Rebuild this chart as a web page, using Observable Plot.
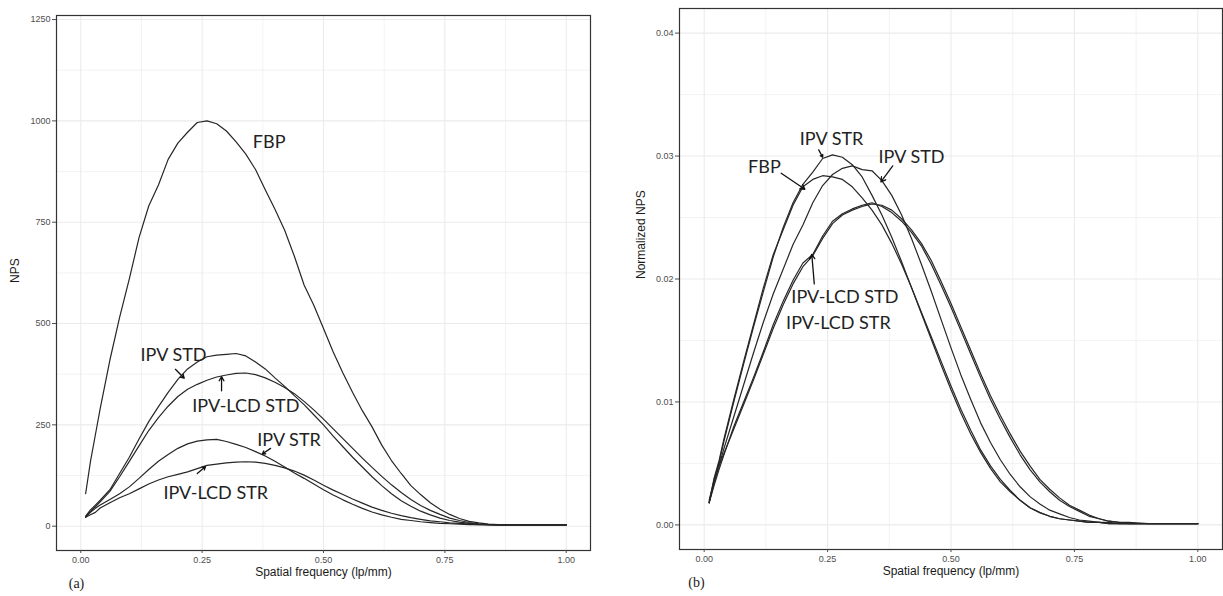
<!DOCTYPE html>
<html><head><meta charset="utf-8">
<script src="https://cdn.jsdelivr.net/npm/d3@7"></script>
<script src="https://cdn.jsdelivr.net/npm/@observablehq/plot@0.6"></script>
<style>
body{margin:0;background:#fff;}
#wrap{position:relative;width:1223px;height:596px;overflow:hidden;background:#fff;}
#pa{position:absolute;left:0;top:0;}
#pb{position:absolute;left:600px;top:0;}
</style></head><body><div id="wrap"><div id="pa"></div><div id="pb"></div></div>
<script>
// ---- data ----
const freq = [0.01,0.02,0.03,0.04,0.06,0.08,0.10,0.12,0.14,0.16,0.18,0.20,0.22,0.24,0.26,0.28,0.30,0.32,0.34,0.36,0.38,0.40,0.42,0.44,0.46,0.48,0.50,0.52,0.54,0.56,0.58,0.60,0.62,0.64,0.66,0.68,0.70,0.72,0.74,0.76,0.78,0.80,0.82,0.84,0.86,0.90,0.95,1.00];
const seriesNames = ["FBP","IPV STD","IPV-LCD STD","IPV STR","IPV-LCD STR"];

// panel (a): NPS
const npsFBP    = [80,160,225,290,410,515,610,712,790,842,905,945,972,996,1000,993,975,948,918,880,830,782,730,666,595,545,488,430,378,330,285,245,200,162,130,100,78,58,42,29,19,12,8,5,4,3,3,3];
const npsIpvStd = [25,40,52,64,90,130,170,215,258,295,330,362,388,405,418,422,424,426,420,405,388,366,345,322,300,275,250,222,196,170,146,122,100,80,63,49,37,28,20,14,10,7,5,4,3,3,3,3];
const npsLcdStd = [22,36,48,60,86,122,160,198,236,268,296,320,338,350,360,368,373,377,378,374,366,355,342,327,308,287,264,240,216,192,168,145,123,102,83,66,51,39,29,20,14,9,6,4,3,3,3,3];
const npsIpvStr = [23,34,44,52,66,80,97,118,140,160,177,192,203,210,213,214,209,202,194,184,173,160,146,131,118,104,90,77,65,54,44,35,28,22,17,14,11,9,7,6,5,4,4,3,3,3,3,3];
const npsLcdStr = [22,28,34,45,58,70,80,92,104,114,122,128,134,142,150,153,156,158,159,158,155,150,144,136,126,114,101,89,78,67,57,47,39,32,26,21,17,13,11,8,7,5,4,4,3,3,3,3];

// panel (b): normalized NPS
const nnpsFBP    = [0.0018,0.0038,0.0052,0.0070,0.0102,0.0133,0.0163,0.0193,0.0220,0.0240,0.0260,0.0275,0.0281,0.0284,0.0283,0.0281,0.0275,0.0266,0.0256,0.0244,0.0229,0.0212,0.0193,0.0173,0.0153,0.0133,0.0113,0.0094,0.0077,0.0061,0.0048,0.0037,0.0028,0.0020,0.0014,0.0010,0.0007,0.0005,0.0004,0.0003,0.0002,0.0002,0.0001,0.0001,0.0001,0.0001,0.0001,0.0001];
const nnpsIpvStd = [0.0018,0.0034,0.0048,0.0062,0.0088,0.0114,0.0140,0.0165,0.0188,0.0208,0.0228,0.0244,0.0262,0.0276,0.0285,0.0290,0.0292,0.0289,0.0288,0.0280,0.0268,0.0252,0.0233,0.0212,0.0190,0.0167,0.0144,0.0122,0.0102,0.0083,0.0067,0.0053,0.0041,0.0031,0.0023,0.0017,0.0012,0.0009,0.0006,0.0004,0.0003,0.0002,0.0002,0.0001,0.0001,0.0001,0.0001,0.0001];
const nnpsLcdStd = [0.0018,0.0032,0.0045,0.0057,0.0080,0.0100,0.0120,0.0141,0.0163,0.0182,0.0199,0.0213,0.0220,0.0235,0.0247,0.0253,0.0257,0.0260,0.0262,0.0259,0.0254,0.0247,0.0238,0.0227,0.0212,0.0195,0.0177,0.0158,0.0139,0.0120,0.0102,0.0086,0.0071,0.0057,0.0045,0.0035,0.0027,0.0020,0.0015,0.0011,0.0007,0.0005,0.0003,0.0002,0.0001,0.0001,0.0001,0.0001];
const nnpsIpvStr = [0.0018,0.0036,0.0050,0.0068,0.0100,0.0131,0.0161,0.0190,0.0218,0.0242,0.0262,0.0277,0.0287,0.0298,0.0301,0.0299,0.0293,0.0283,0.0268,0.0252,0.0234,0.0214,0.0193,0.0172,0.0151,0.0130,0.0110,0.0091,0.0074,0.0059,0.0046,0.0035,0.0027,0.0020,0.0014,0.0010,0.0007,0.0005,0.0004,0.0003,0.0002,0.0002,0.0001,0.0001,0.0001,0.0001,0.0001,0.0001];
const nnpsLcdStr = [0.0020,0.0036,0.0048,0.0058,0.0078,0.0098,0.0118,0.0139,0.0160,0.0179,0.0196,0.0210,0.0219,0.0233,0.0245,0.0252,0.0256,0.0259,0.0261,0.0260,0.0256,0.0249,0.0240,0.0229,0.0215,0.0198,0.0180,0.0161,0.0142,0.0123,0.0105,0.0089,0.0074,0.0060,0.0048,0.0037,0.0029,0.0022,0.0016,0.0012,0.0008,0.0005,0.0003,0.0002,0.0002,0.0001,0.0001,0.0001];

// ticks
const xTicks = [0, 0.25, 0.5, 0.75, 1];
const xMinor = [0.125, 0.375, 0.625, 0.875];
const yTicksA = [0, 250, 500, 750, 1000, 1250];
const yMinorA = [125, 375, 625, 875, 1125];
const yTicksB = [0, 0.01, 0.02, 0.03, 0.04];
const yMinorB = [0.005, 0.015, 0.025, 0.035];

// annotations panel (a)
const labA  = ["FBP","IPV STD","IPV-LCD STD","IPV STR","IPV-LCD STR"];
const labAx = [0.388, 0.191, 0.340, 0.429, 0.278];
const labAy = [947, 422, 296, 211, 82];
const arrA_x1 = [0.195, 0.290, 0.391, 0.240];
const arrA_y1 = [387, 334, 192, 130];
const arrA_x2 = [0.213, 0.290, 0.374, 0.257];
const arrA_y2 = [365, 369, 178, 147];

// annotations panel (b)
const labB  = ["IPV STR","FBP","IPV STD","IPV-LCD STD","IPV-LCD STR"];
const labBx = [0.258, 0.122, 0.420, 0.285, 0.272];
const labBy = [0.0314, 0.0291, 0.0299, 0.0185, 0.0164];
const arrB_x1 = [0.232, 0.156, 0.382, 0.223];
const arrB_y1 = [0.0305, 0.0286, 0.0292, 0.0196];
const arrB_x2 = [0.240, 0.204, 0.358, 0.218];
const arrB_y2 = [0.0299, 0.0273, 0.0279, 0.0220];

// ---- build ----
function tidy(arrs) {
  const out = [];
  arrs.forEach((vals, s) => vals.forEach((v, i) => out.push({series: seriesNames[s], x: freq[i], y: v})));
  return out;
}
const dataA = tidy([npsFBP, npsIpvStd, npsLcdStd, npsIpvStr, npsLcdStr]);
const dataB = tidy([nnpsFBP, nnpsIpvStd, nnpsLcdStd, nnpsIpvStr, nnpsLcdStr]);

const grid = "#ebebeb";
const tickCol = "#4d4d4d";
const lineCol = "#262626";
const style = {fontFamily: "'Liberation Sans', Arial, sans-serif", fontSize: "9px", background: "white", overflow: "visible"};

function panel(opts) {
  const idx = d3.range(opts.lab.length);
  const aidx = d3.range(opts.ax1.length);
  return Plot.plot({
    width: opts.width, height: 596,
    marginLeft: opts.ml, marginRight: opts.mr, marginTop: opts.mt, marginBottom: opts.mb,
    x: {domain: [-0.05, 1.05]},
    y: {domain: opts.ydom},
    style,
    marks: [
      Plot.ruleX(xMinor, {stroke: grid, strokeWidth: 0.6}),
      Plot.ruleX(xTicks, {stroke: grid, strokeWidth: 1.1}),
      Plot.ruleY(opts.yMinor, {stroke: grid, strokeWidth: 0.6}),
      Plot.ruleY(opts.yTicks, {stroke: grid, strokeWidth: 1.1}),
      Plot.line(opts.data, {x: "x", y: "y", z: "series", stroke: lineCol, strokeWidth: 1.2}),
      Plot.frame({stroke: "#333333", strokeWidth: 1.2}),
      Plot.axisX({ticks: xTicks, tickFormat: d3.format(".2f"), tickSize: 3, tickPadding: 3, color: tickCol, label: null, fontSize: 9}),
      Plot.axisY({ticks: opts.yTicks, tickFormat: opts.yfmt, tickSize: 4, tickPadding: 2, color: tickCol, label: null, fontSize: 9}),
      Plot.text(["Spatial frequency (lp/mm)"], {frameAnchor: "bottom", dy: 25, fontSize: 12, fill: "#1a1a1a"}),
      Plot.text([opts.ytitle], {frameAnchor: "left", dx: opts.ytdx, rotate: -90, fontSize: 12, fill: "#1a1a1a"}),
      Plot.text([opts.tag], {frameAnchor: "bottom-left", textAnchor: "middle", dx: opts.tagdx, dy: 37, fontSize: 14, fontFamily: "'Liberation Serif', serif", fill: "#1a1a1a"}),
      Plot.text(idx, {x: i => opts.labx[i], y: i => opts.laby[i], text: i => opts.lab[i], fontSize: 18, fontFamily: "Lato, 'Open Sans', sans-serif", fill: "#222"}),
      Plot.arrow(aidx, {x1: i => opts.ax1[i], y1: i => opts.ay1[i], x2: i => opts.ax2[i], y2: i => opts.ay2[i], stroke: "#111", strokeWidth: 1.3, headLength: 6})
    ]
  });
}

document.getElementById("pa").appendChild(panel({
  width: 600, ml: 56, mr: 10, mt: 15, mb: 46,
  ydom: [-60, 1260], yTicks: yTicksA, yMinor: yMinorA, yfmt: d3.format("d"),
  data: dataA, ytitle: "NPS", ytdx: -41, tag: "(a)", tagdx: 20,
  lab: labA, labx: labAx, laby: labAy, ax1: arrA_x1, ay1: arrA_y1, ax2: arrA_x2, ay2: arrA_y2
}));
document.getElementById("pb").appendChild(panel({
  width: 623, ml: 79, mr: 1, mt: 8, mb: 47,
  ydom: [-0.002, 0.042], yTicks: yTicksB, yMinor: yMinorB, yfmt: d3.format(".2f"),
  data: dataB, ytitle: "Normalized NPS", ytdx: -38, tag: "(b)", tagdx: 17,
  lab: labB, labx: labBx, laby: labBy, ax1: arrB_x1, ay1: arrB_y1, ax2: arrB_x2, ay2: arrB_y2
}));
</script></body></html>
